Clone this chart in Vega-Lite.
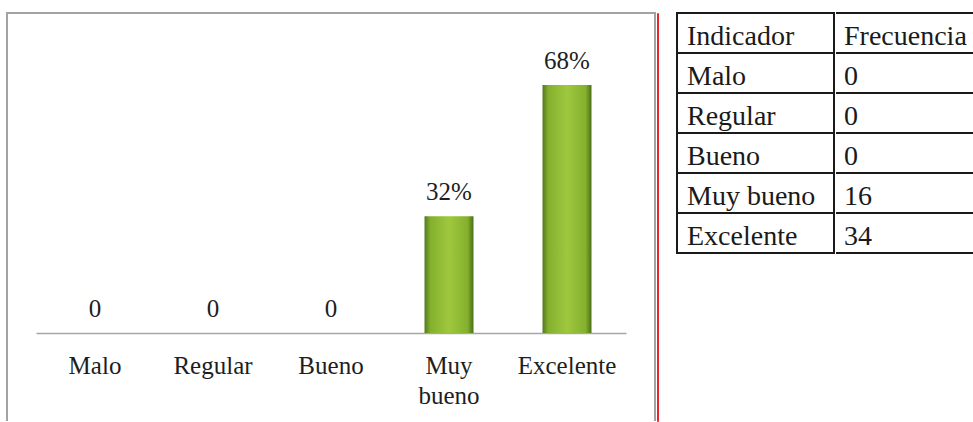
{
  "$schema": "https://vega.github.io/schema/vega-lite/v6.json",
  "padding": {"left": 6, "top": 12, "right": 0, "bottom": 0},
  "background": "white",
  "config": {"font": "Liberation Serif, Times New Roman, serif", "view": {"stroke": null}},
  "datasets": {
    "datos": [
      {"Indicador": "Malo", "Frecuencia": 0, "Porcentaje": 0, "Etiqueta": "0"},
      {"Indicador": "Regular", "Frecuencia": 0, "Porcentaje": 0, "Etiqueta": "0"},
      {"Indicador": "Bueno", "Frecuencia": 0, "Porcentaje": 0, "Etiqueta": "0"},
      {"Indicador": "Muy bueno", "Frecuencia": 16, "Porcentaje": 32, "Etiqueta": "32%"},
      {"Indicador": "Excelente", "Frecuencia": 34, "Porcentaje": 68, "Etiqueta": "68%"}
    ],
    "encabezado": [{"Indicador": "Indicador", "Frecuencia": "Frecuencia"}]
  },
  "spacing": 16,
  "hconcat": [
    {
      "spacing": 0,
      "hconcat": [
        {
          "width": 648,
          "height": 408,
          "view": {"stroke": "#a3a3a3", "strokeWidth": 2, "strokeDash": [1056, 648, 408]},
          "data": {"name": "datos"},
          "encoding": {
            "x": {
              "field": "Indicador", "type": "nominal", "sort": null,
              "scale": {"range": [29, 619], "paddingInner": 0.585, "paddingOuter": 0.2925},
              "axis": {
                "title": null, "ticks": false, "domainColor": "#a6a6a6", "domainWidth": 1.5,
                "offset": -88, "labelAngle": 0, "labelFont": "Liberation Serif, Times New Roman, serif", "labelFontSize": 25,
                "labelColor": "#1e1e1e", "labelPadding": 20, "labelExpr": "split(datum.label, ' ')",
                "labelLineHeight": 30
              }
            },
            "y": {
              "field": "Porcentaje", "type": "quantitative",
              "scale": {"domain": [0, 68], "range": [320, 72]}, "axis": null
            }
          },
          "layer": [
            {
              "mark": {
                "type": "bar",
                "color": {
                  "gradient": "linear", "x1": 0, "x2": 1, "y1": 0, "y2": 0,
                  "stops": [
                    {"offset": 0, "color": "#52791b"},
                    {"offset": 0.12, "color": "#84b02e"},
                    {"offset": 0.5, "color": "#9fc83e"},
                    {"offset": 0.88, "color": "#84b02e"},
                    {"offset": 1, "color": "#4a6f18"}
                  ]
                }
              }
            },
            {
              "mark": {"type": "text", "baseline": "alphabetic", "dy": -16, "fontSize": 25, "color": "#1e1e1e"},
              "encoding": {"text": {"field": "Etiqueta"}}
            }
          ]
        },
        {
          "width": 1,
          "height": 408,
          "view": {"stroke": "#e8262b", "strokeWidth": 1},
          "data": {"values": []},
          "mark": "rule",
          "encoding": {}
        }
      ]
    },
    {
      "spacing": -2,
      "hconcat": [
        {
          "width": 157,
          "height": 240,
          "view": {"stroke": "#1a1a1a", "strokeWidth": 2},
          "layer": [
            {
              "data": {"name": "datos"},
              "mark": {"type": "rule", "color": "#1a1a1a", "strokeWidth": 2},
              "encoding": {
                "y": {
                  "field": "Indicador", "type": "nominal", "bandPosition": 0,
                  "scale": {"domain": ["Indicador", "Malo", "Regular", "Bueno", "Muy bueno", "Excelente"], "paddingInner": 0, "paddingOuter": 0},
                  "axis": null
                }
              }
            },
            {
              "data": {"name": "datos"},
              "mark": {"type": "text", "align": "left", "baseline": "alphabetic", "dx": 10, "dy": 12, "fontSize": 28, "color": "#1a1a1a"},
              "encoding": {
                "x": {"datum": 0, "type": "quantitative", "scale": {"domain": [0, 1]}, "axis": null},
                "y": {"field": "Indicador", "type": "nominal", "axis": null},
                "text": {"field": "Indicador"}
              }
            },
            {
              "data": {"name": "encabezado"},
              "mark": {"type": "text", "align": "left", "baseline": "alphabetic", "dx": 10, "dy": 12, "fontSize": 28, "color": "#1a1a1a"},
              "encoding": {
                "x": {"datum": 0, "type": "quantitative", "scale": {"domain": [0, 1]}, "axis": null},
                "y": {"field": "Indicador", "type": "nominal", "axis": null},
                "text": {"field": "Indicador"}
              }
            }
          ]
        },
        {
          "width": 139,
          "height": 240,
          "view": {"stroke": "#1a1a1a", "strokeWidth": 2, "strokeDash": [139, 240, 139, 240]},
          "layer": [
            {
              "data": {"name": "datos"},
              "mark": {"type": "rule", "color": "#1a1a1a", "strokeWidth": 2},
              "encoding": {
                "y": {
                  "field": "Indicador", "type": "nominal", "bandPosition": 0,
                  "scale": {"domain": ["Indicador", "Malo", "Regular", "Bueno", "Muy bueno", "Excelente"], "paddingInner": 0, "paddingOuter": 0},
                  "axis": null
                }
              }
            },
            {
              "data": {"name": "datos"},
              "mark": {"type": "text", "align": "left", "baseline": "alphabetic", "dx": 8, "dy": 12, "fontSize": 28, "color": "#1a1a1a"},
              "encoding": {
                "x": {"datum": 0, "type": "quantitative", "scale": {"domain": [0, 1]}, "axis": null},
                "y": {"field": "Indicador", "type": "nominal", "axis": null},
                "text": {"field": "Frecuencia"}
              }
            },
            {
              "data": {"name": "encabezado"},
              "mark": {"type": "text", "align": "left", "baseline": "alphabetic", "dx": 8, "dy": 12, "fontSize": 28, "color": "#1a1a1a"},
              "encoding": {
                "x": {"datum": 0, "type": "quantitative", "scale": {"domain": [0, 1]}, "axis": null},
                "y": {"field": "Indicador", "type": "nominal", "axis": null},
                "text": {"field": "Frecuencia"}
              }
            }
          ]
        }
      ]
    }
  ]
}
